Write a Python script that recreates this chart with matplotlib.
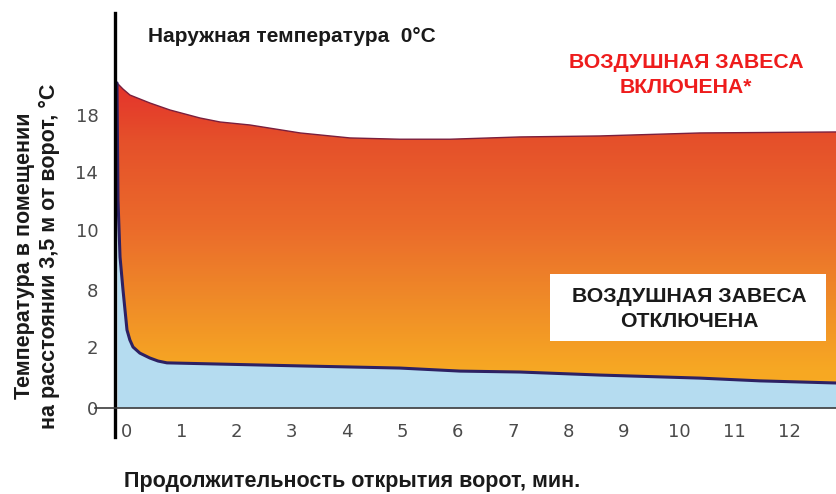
import numpy as np
import matplotlib
matplotlib.use("Agg")
import matplotlib.pyplot as plt
from matplotlib.colors import LinearSegmentedColormap
from matplotlib.patches import Polygon, Rectangle

W, H = 836, 494

# время открытия ворот, мин. / температура, °C
upper_t = [-0.163, -0.054, 0.072, 0.434, 0.796, 1.338, 1.70, 2.24, 3.15, 4.05, 4.95, 5.86,
           7.12, 8.57, 10.38, 12.84]
upper_temp = [20.25, 19.82, 19.40, 18.84, 18.35, 17.79, 17.51, 17.30, 16.74, 16.39, 16.3, 16.3,
              16.46, 16.53, 16.74, 16.81]

lower_t = [-0.163, -0.145, -0.108, -0.054, 0.018, 0.07, 0.127, 0.25, 0.43, 0.58, 0.74, 1.70, 3.15,
           4.95, 6.04, 7.12, 8.57, 10.38, 11.46, 12.84]
lower_temp = [20.25, 12.07, 9.1, 8.0, 3.79, 2.74, 2.0, 1.8, 1.64, 1.54, 1.48, 1.44, 1.38,
              1.31, 1.21, 1.18, 1.08, 0.98, 0.89, 0.82]

x_ticks = list(range(13))
y_ticks = [0, 2, 8, 10, 14, 18]

# шкала оси Y в оригинале неравномерная
Y_TEMPS = [0, 2, 8, 10, 14, 18, 26]
Y_HEIGHTS = [0, 61, 118, 178, 236, 293, 407]


def fwd(v):
    return np.interp(v, Y_TEMPS, Y_HEIGHTS)


def inv(h):
    return np.interp(h, Y_HEIGHTS, Y_TEMPS)


def fx(px):
    return px / W


def fy(py):
    return 1 - py / H


fig = plt.figure(figsize=(W / 100, H / 100), dpi=100)
ax = fig.add_axes([fx(115), fy(408), fx(836) - fx(115), (408 - 13) / H])
ax.set_yscale('function', functions=(fwd, inv))

# градиент между кривыми
cmap = LinearSegmentedColormap.from_list('grad', [
    (0.0, '#f8ac22'),
    (0.094, '#f7a823'),
    (0.274, '#ef8a28'),
    (0.449, '#eb6c2b'),
    (0.678, '#e5502a'),
    (0.822, '#e4322c'),
    (1.0, '#e4322c'),
])
grad = np.linspace(0, 1, 400).reshape(-1, 1)
im = ax.imshow(grad, extent=[0, 1, 0, 1], transform=ax.transAxes, aspect='auto',
               cmap=cmap, origin='lower', zorder=1)
verts = list(zip(upper_t, upper_temp)) + list(zip(lower_t[::-1], lower_temp[::-1]))
clip = Polygon(verts, closed=True, transform=ax.transData, facecolor='none', edgecolor='none')
ax.add_patch(clip)
im.set_clip_path(clip)

ax.fill_between(lower_t, 0, lower_temp, color='#b5dcf0', lw=0, zorder=2)
ax.plot(upper_t, upper_temp, color='#7a1f3d', lw=1.0, zorder=3)
ax.plot(lower_t, lower_temp, color='#2d2163', lw=2.2, zorder=3, solid_capstyle='round',
        solid_joinstyle='round')

ax.set_xlim((115 - 126) / 55.3, (836 - 126) / 55.3)
ax.set_ylim(0, inv(395))

for s in ax.spines.values():
    s.set_visible(False)
ax.set_xticks(x_ticks)
ax.set_xticklabels([str(v) for v in x_ticks])
ax.set_yticks(y_ticks)
ax.set_yticklabels([str(v) for v in y_ticks])
ax.minorticks_off()
ax.tick_params(axis='both', length=0, labelsize=13, labelcolor='#4a4a4a')
ax.tick_params(axis='x', pad=11)
ax.tick_params(axis='y', pad=12)

# оси
ax.plot([0, 0], [-0.073, 1.0], transform=ax.transAxes, clip_on=False, color='black', lw=2.4, zorder=5)
ax.plot([-0.028, 1.0], [0, 0], transform=ax.transAxes, clip_on=False, color='#3c3c3c', lw=1.2, zorder=5)

bold = dict(family=['Liberation Sans', 'DejaVu Sans'], fontweight='bold')

fig.text(fx(148), fy(37), 'Наружная температура  0°C', fontsize=15, ha='left', va='center',
         color='#1a1a1a', **bold)
fig.text(fx(686), fy(75), 'ВОЗДУШНАЯ ЗАВЕСА\nВКЛЮЧЕНА*', fontsize=15.3, ha='center', va='center',
         color='#ee1c1c', linespacing=1.42, **bold)

fig.add_artist(Rectangle((fx(550), fy(341)), fx(826) - fx(550), (341 - 274) / H,
                         transform=fig.transFigure, facecolor='white', edgecolor='none', zorder=6))
fig.text(fx(689), fy(309), 'ВОЗДУШНАЯ ЗАВЕСА\nОТКЛЮЧЕНА', fontsize=15.3, ha='center', va='center',
         color='#1a1a1a', linespacing=1.38, zorder=7, **bold)

fig.text(fx(352), fy(481), 'Продолжительность открытия ворот, мин.', fontsize=15.5, ha='center',
         va='center', color='#1a1a1a', **bold)
fig.text(fx(37), fy(256), 'Температура в помещении\nна расстоянии 3,5 м от ворот, °С', fontsize=15.5,
         ha='center', va='center', rotation=90, color='#1a1a1a', linespacing=1.2, **bold)

fig.savefig('out.png', dpi=100)
